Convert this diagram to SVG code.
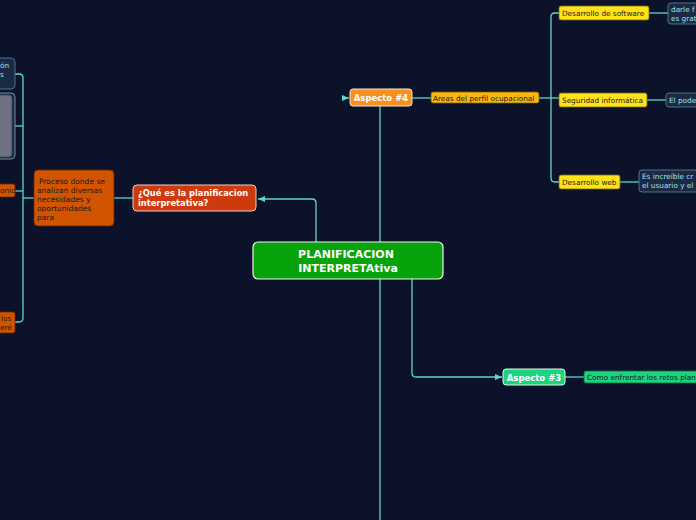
<svg xmlns="http://www.w3.org/2000/svg" width="696" height="520" viewBox="0 0 696 520">
<style>
text{font-family:"DejaVu Sans","Verdana",sans-serif}
.c{fill:none;stroke:#5ed6cb;stroke-width:1.3}
.s{font-size:7.3px;fill:#1a1a1a}
.p{font-size:7.5px;fill:#1a1a1a}
.w{font-size:7.3px;fill:#9fe0ee}
.b{font-weight:bold;fill:#fff}
.dk{fill:#1c2942;stroke:#4f7488;stroke-width:1}
.yl{fill:#ffe219;stroke:#7a6a10;stroke-width:0.8}
</style>
<defs>
<marker id="ar" markerWidth="8" markerHeight="8" refX="7" refY="4" orient="auto" markerUnits="userSpaceOnUse">
<path d="M0,1 L7,4 L0,7 Z" fill="#5ed6cb"/>
</marker>
</defs>
<rect width="696" height="520" fill="#0b1229"/>
<g id="connectors">
<path class="c" d="M316,242 V203 Q316,199 312,199 H258" marker-end="url(#ar)"/>
<path class="c" d="M380,106 V520"/>
<path class="c" d="M343,98 H349" marker-end="url(#ar)"/>
<path class="c" d="M412,279 V373 Q412,377 416,377 H502" marker-end="url(#ar)"/>
<path class="c" d="M412,98 H431"/>
<path class="c" d="M539,98 H559"/>
<path class="c" d="M559,13 H555 Q551,13 551,17 V178 Q551,182 555,182 H559"/>
<path class="c" d="M649,13 H668"/>
<path class="c" d="M647,100 H666"/>
<path class="c" d="M620,182 H639"/>
<path class="c" d="M565,377 H584"/>
<path class="c" d="M133,198 H114"/>
<path class="c" d="M34,198 H23"/>
<path class="c" d="M15,74 H19 Q23,74 23,78 V318 Q23,322 19,322 H15"/>
<path class="c" d="M15,126 H23"/>
<path class="c" d="M15,191 H23"/>
</g>
<g id="central">
<rect x="253" y="242" width="190" height="37" rx="5" fill="#08a30a" stroke="#f2f2f2" stroke-width="1.2"/>
<text x="346" y="258" text-anchor="middle" font-size="11" class="b">PLANIFICACION</text>
<text x="348" y="272" text-anchor="middle" font-size="11" class="b">INTERPRETAtiva</text>
</g>
<g id="que-es">
<rect x="133" y="185" width="123" height="26" rx="4" fill="#cc3a0e" stroke="#f0d0c0" stroke-width="1"/>
<text x="138" y="196" font-size="8.3" class="b">¿Qué es la planificacion</text>
<text x="138" y="206" font-size="8.3" class="b">interpretativa?</text>
</g>
<g id="proceso">
<rect x="34" y="170" width="80" height="56" rx="4" fill="#d35400" stroke="#6a2a00" stroke-width="0.8"/>
<text class="p" x="39" y="184">Proceso donde se</text>
<text class="p" x="37" y="193">analizan diversas</text>
<text class="p" x="37" y="202">necesidades y</text>
<text class="p" x="37" y="211">oportunidades</text>
<text class="p" x="37" y="220">para</text>
</g>
<g id="left1">
<rect x="-10" y="58" width="25" height="31" rx="4" class="dk"/>
<text class="w" x="0" y="68">ón</text>
<text class="w" x="0" y="77">s</text>
</g>
<g id="left2">
<rect x="-10" y="93" width="25" height="66" rx="4" fill="#1c2942" stroke="#6f8fa0" stroke-width="1"/>
<rect x="-8" y="95" width="20" height="62" rx="3" fill="#6d7182" stroke="#3a3f50" stroke-width="0.8"/>
</g>
<g id="left3">
<rect x="-10" y="184" width="25" height="13" rx="2" fill="#d35400" stroke="#6a2a00" stroke-width="0.8"/>
<text class="s" x="0" y="193">onio</text>
</g>
<g id="left4">
<rect x="-10" y="312" width="25" height="21" rx="2" fill="#d35400" stroke="#6a2a00" stroke-width="0.8"/>
<text class="s" x="1" y="321">los</text>
<text class="s" x="0" y="330">eré</text>
</g>
<g id="aspecto4">
<rect x="350" y="89" width="62" height="17" rx="3" fill="#f7901e" stroke="#f5e6d0" stroke-width="1"/>
<text x="381" y="101" text-anchor="middle" font-size="8.5" class="b">Aspecto #4</text>
</g>
<g id="areas">
<rect x="431" y="92" width="108" height="11" rx="2" fill="#f9b80f" stroke="#7a5a00" stroke-width="0.8"/>
<text class="s" x="433" y="100.5">Areas del perfil ocupacional</text>
</g>
<g id="des-soft">
<rect x="559" y="6" width="90" height="14" rx="2" class="yl"/>
<text class="s" x="562" y="16">Desarrollo de software</text>
</g>
<g id="seg-inf">
<rect x="559" y="93" width="88" height="14" rx="2" class="yl"/>
<text class="s" x="562" y="103">Seguridad informática</text>
</g>
<g id="des-web">
<rect x="559" y="175" width="61" height="14" rx="2" class="yl"/>
<text class="s" x="562" y="185">Desarrollo web</text>
</g>
<g id="n-darle">
<rect x="668" y="3" width="40" height="21" rx="3" class="dk"/>
<text class="w" x="671" y="12">darle f</text>
<text class="w" x="671" y="21">es grat</text>
</g>
<g id="n-poder">
<rect x="666" y="93" width="40" height="14" rx="3" class="dk"/>
<text class="w" x="669" y="103">El pode</text>
</g>
<g id="n-increible">
<rect x="639" y="170" width="70" height="22" rx="3" class="dk"/>
<text class="w" x="642" y="179">Es increíble cr</text>
<text class="w" x="642" y="188">el usuario y el</text>
</g>
<g id="aspecto3">
<rect x="503" y="369" width="62" height="16" rx="3" fill="#1bd47f" stroke="#e0f5ea" stroke-width="1"/>
<text x="534" y="380.5" text-anchor="middle" font-size="8.5" class="b">Aspecto #3</text>
</g>
<g id="como">
<rect x="584" y="371" width="120" height="12" rx="2" fill="#1bd47f" stroke="#0a6a3a" stroke-width="0.8"/>
<text class="s" x="587" y="380">Como enfrentar los retos plan</text>
</g>
</svg>
